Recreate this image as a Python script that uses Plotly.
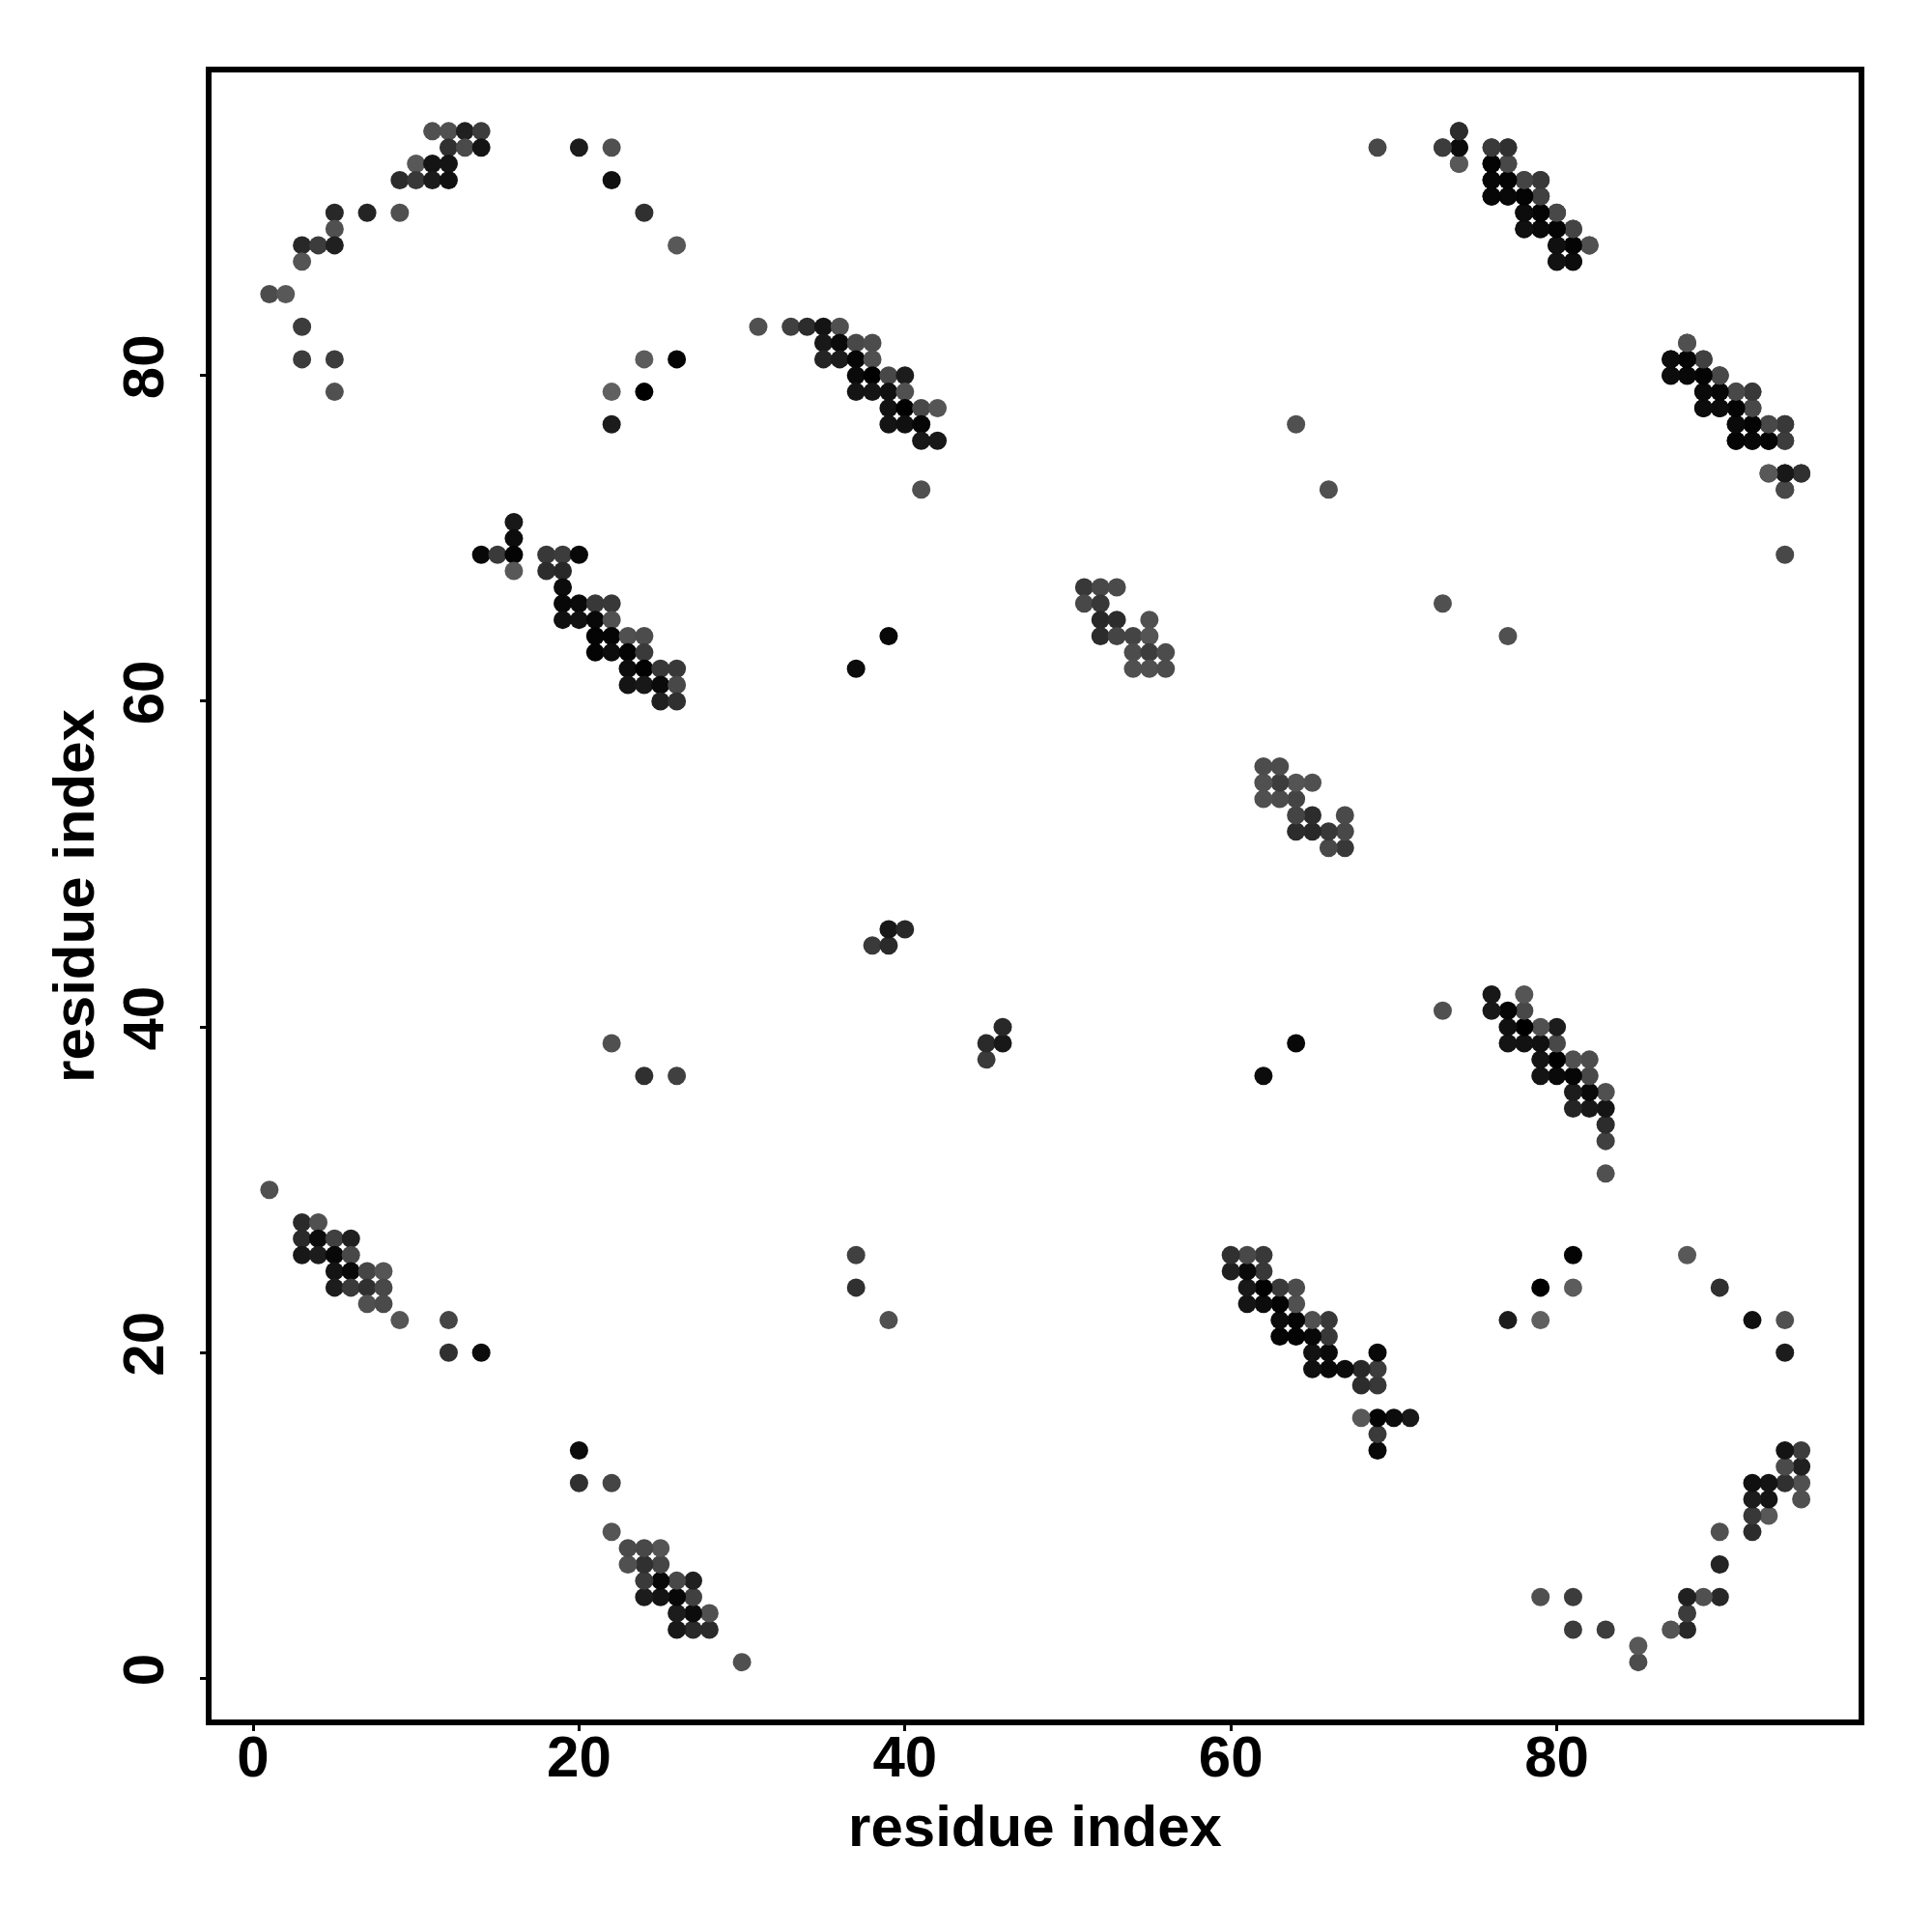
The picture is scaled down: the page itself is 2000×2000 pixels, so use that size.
import plotly.graph_objects as go

# Contact pairs (residue i, residue j) with grey level (0 = black ... 96 = mid grey); the map is symmetric
res_i_1 = [1,3,4,3,4,5,6,3,4,5,6,5,6,7,8,5,6,7,8,7,8,9,12,12,14]
res_j_1 = [30,28,28,27,27,27,27,26,26,26,26,25,25,25,25,24,24,24,24,23,23,22,22,20,20]
grey_1 = [0x50,0x2a,0x50,0x2a,0x0c,0x40,0x20,0x18,0x1c,0x08,0x48,0x14,0x08,0x45,0x55,0x1c,0x3a,0x30,0x48,0x50,0x4a,0x55,0x45,0x30,0x0c]

res_i_2 = [16,16,14,15,16,16,18,19,20,18,19,19,19,20,21,22,19,20,21,22,21,22,23,24,21,22,23,24,23,24,25,26,23,24,25,26,25,26]
res_j_2 = [71,70,69,69,69,68,69,69,69,68,68,67,66,66,66,66,65,65,65,65,64,64,64,64,63,63,63,63,62,62,62,62,61,61,61,61,60,60]
grey_2 = [0x18,0x0c,0x08,0x3a,0x04,0x58,0x38,0x3c,0x08,0x2c,0x28,0x0c,0x08,0x0a,0x38,0x38,0x10,0x12,0x08,0x50,0x04,0x04,0x50,0x4c,0x04,0x0c,0x04,0x3a,0x0c,0x02,0x38,0x38,0x14,0x18,0x0a,0x48,0x20,0x30]

res_i_3 = [11,12,13,14,12,13,14,10,11,12,9,10,11,12,5,7,9,5,3,4,5,3,1,2,3,3,5,5,20,22,22,24,26,26,24,24,22,22]
res_j_3 = [95,95,95,95,94,94,94,93,93,93,92,92,92,92,90,90,90,89,88,88,88,87,85,85,83,81,81,79,94,94,92,90,88,81,81,79,79,77]
grey_3 = [0x50,0x50,0x20,0x3c,0x30,0x4a,0x14,0x58,0x14,0x14,0x2c,0x38,0x1c,0x10,0x28,0x24,0x50,0x50,0x28,0x3c,0x20,0x54,0x4c,0x58,0x3c,0x3c,0x3c,0x50,0x1c,0x50,0x10,0x30,0x58,0x04,0x5c,0x00,0x60,0x1c]

res_i_4 = [31,33,34,35,36,35,36,37,38,35,36,37,38,37,38,39,40,37,38,39,40,39,40,41,42,39,40,41,41,42,41]
res_j_4 = [83,83,83,83,83,82,82,82,82,81,81,81,81,80,80,80,80,79,79,79,79,78,78,78,78,77,77,77,76,76,73]
grey_4 = [0x50,0x40,0x2c,0x14,0x50,0x18,0x0a,0x48,0x4c,0x24,0x1c,0x06,0x50,0x0a,0x00,0x48,0x1c,0x14,0x14,0x10,0x50,0x12,0x00,0x48,0x55,0x14,0x10,0x06,0x18,0x18,0x50]

res_i_5 = [37,39,38,39,39,40,22,24,26]
res_j_5 = [62,64,45,45,46,46,39,37,37]
grey_5 = [0x0c,0x08,0x3a,0x2a,0x18,0x28,0x50,0x30,0x40]

res_i_6 = [51,52,53,51,52,52,53,55,52,53,54,55,54,55,56,54,55,56,64,66,69]
res_j_6 = [67,67,67,66,66,65,65,65,64,64,64,64,63,63,63,62,62,62,77,73,94]
grey_6 = [0x38,0x48,0x4a,0x48,0x38,0x28,0x2c,0x50,0x2c,0x44,0x44,0x54,0x4c,0x3c,0x4c,0x50,0x50,0x4c,0x50,0x50,0x48]

res_i_7 = [74,73,74,76,77,74,76,77,76,77,78,79,76,77,78,79,78,79,80,78,79,80,81,80,81,82,80,81]
res_j_7 = [95,94,94,94,94,93,93,93,92,92,92,92,91,91,91,91,90,90,90,89,89,89,89,88,88,88,87,87]
grey_7 = [0x30,0x48,0x18,0x3c,0x38,0x58,0x04,0x48,0x08,0x04,0x48,0x38,0x04,0x0a,0x04,0x48,0x0c,0x06,0x48,0x0c,0x0a,0x04,0x40,0x08,0x04,0x50,0x0c,0x0c]

res_i_8 = [88,87,88,89,87,88,89,90,89,90,91,92,89,90,91,92,91,92,93,94,91,92,93,94,93,94,95,94]
res_j_8 = [82,81,81,81,80,80,80,80,79,79,79,79,78,78,78,78,77,77,77,77,76,76,76,76,74,74,74,73]
grey_8 = [0x50,0x0c,0x04,0x44,0x12,0x10,0x04,0x48,0x0a,0x04,0x40,0x38,0x10,0x0c,0x04,0x44,0x08,0x04,0x48,0x30,0x06,0x06,0x04,0x3a,0x58,0x0c,0x2c,0x3c]

tick_values = [0, 20, 40, 60, 80]
axis_label = "residue index"

res_i = res_i_1 + res_i_2 + res_i_3 + res_i_4 + res_i_5 + res_i_6 + res_i_7 + res_i_8
res_j = res_j_1 + res_j_2 + res_j_3 + res_j_4 + res_j_5 + res_j_6 + res_j_7 + res_j_8
greys = grey_1 + grey_2 + grey_3 + grey_4 + grey_5 + grey_6 + grey_7 + grey_8

xs = res_i + res_j
ys = res_j + res_i
colors = [f"rgb({g},{g},{g})" for g in greys] * 2

fig = go.Figure(go.Scatter(x=xs, y=ys, mode="markers",
                           marker=dict(size=19, color=colors, line=dict(width=0)),
                           showlegend=False, hoverinfo="skip"))

font = dict(family="Liberation Sans", size=60, color="black", weight="bold")
axis = dict(tickvals=tick_values, showgrid=False, zeroline=False, showline=True, mirror=True,
            linecolor="black", linewidth=6, ticks="outside", ticklen=6, tickwidth=3, tickcolor="black",
            tickfont=font, automargin=False)
fig.update_layout(
    width=2000, height=2000, plot_bgcolor="white", paper_bgcolor="white",
    margin=dict(l=219, r=76, t=74.5, b=219.5, pad=0),
    xaxis=dict(axis, range=[-2.55, 98.52], ticklabelstandoff=-25,
               title=dict(text=axis_label, font=font, standoff=20)),
    yaxis=dict(axis, range=[-2.52, 98.61], tickangle=-90, ticklabelstandoff=14,
               title=dict(text=axis_label, font=font, standoff=0)),
)
fig.write_html("out.html", config=dict(displayModeBar=False),
               post_script="document.body.style.margin='0';document.body.style.overflow='hidden';")
